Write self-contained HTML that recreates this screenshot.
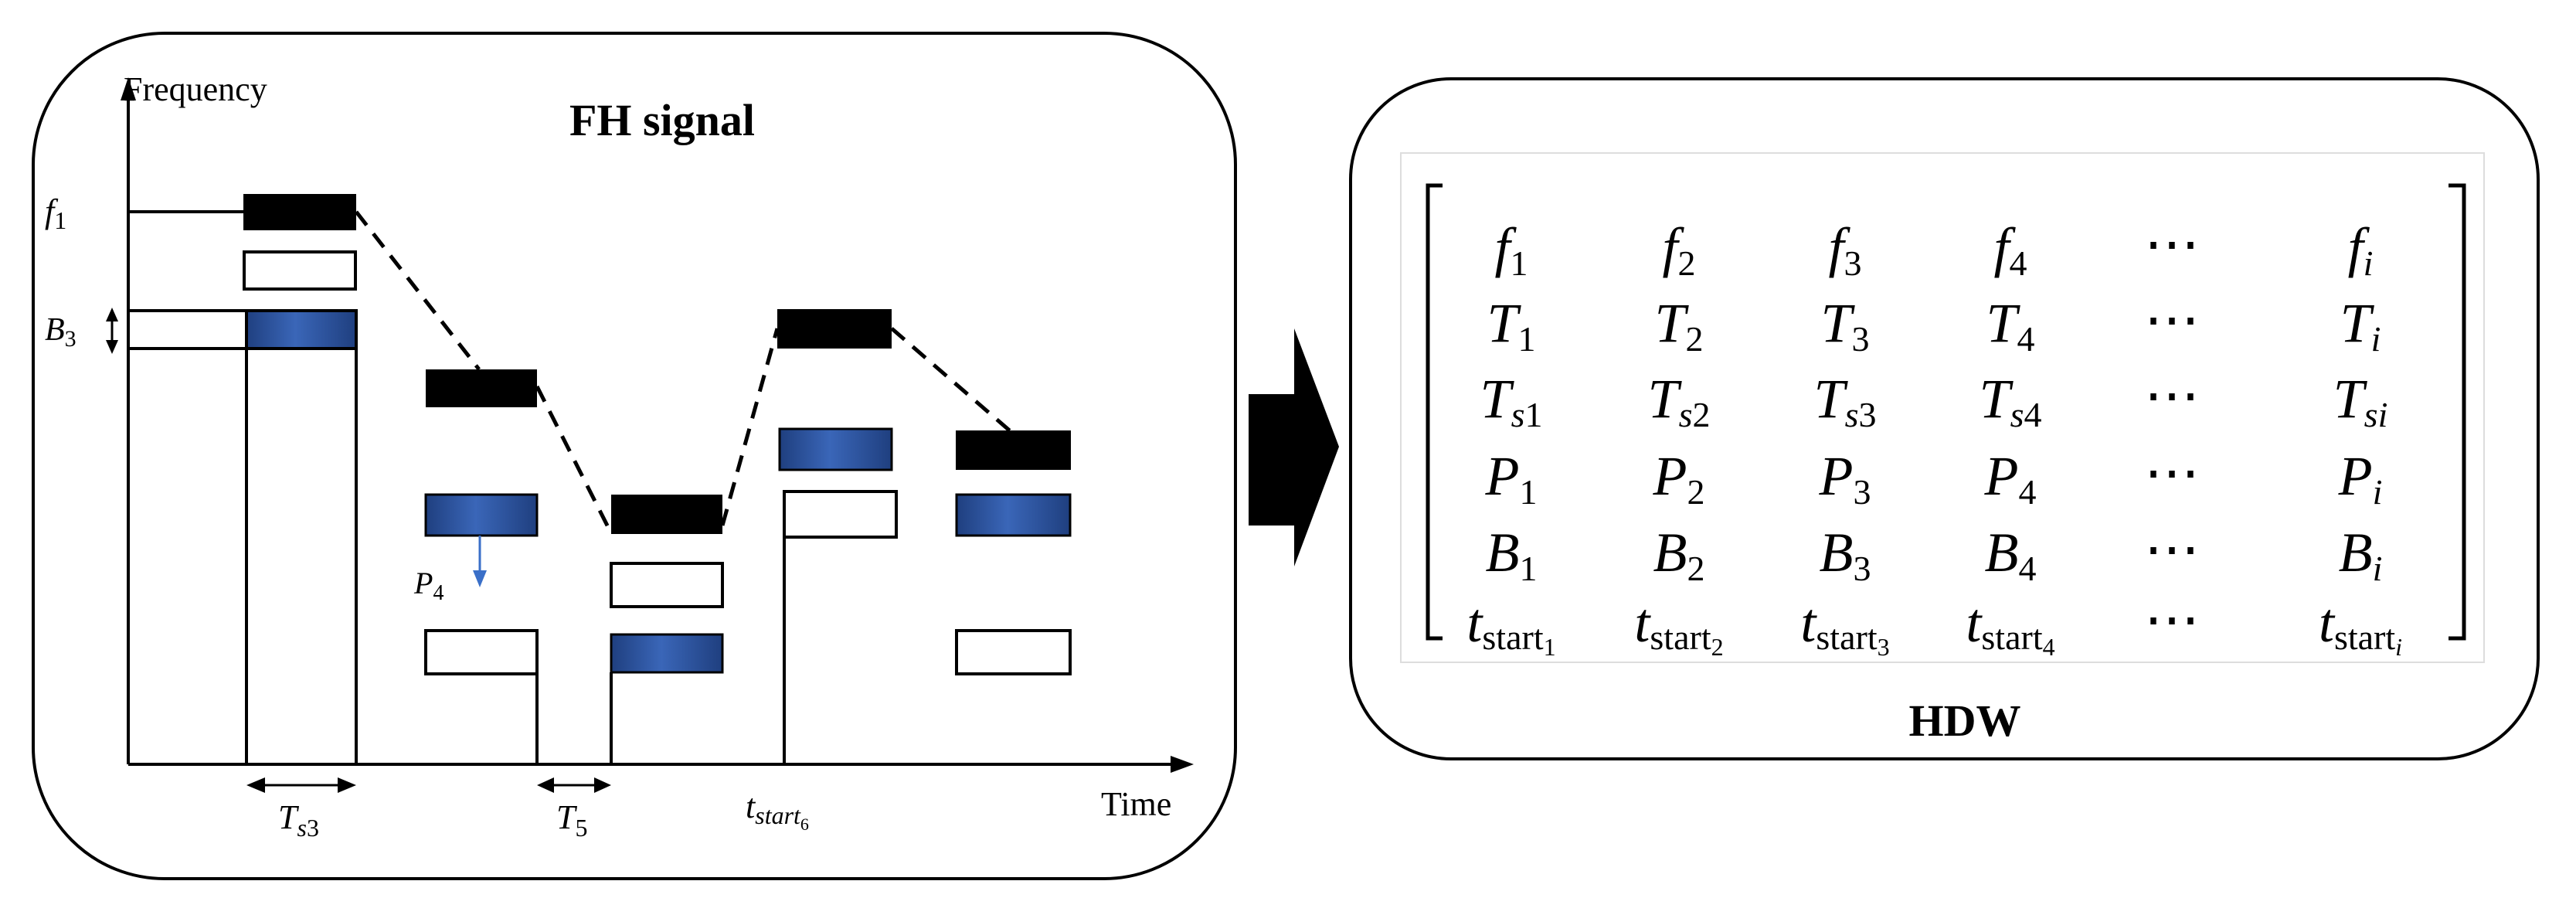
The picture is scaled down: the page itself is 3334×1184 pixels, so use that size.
<!DOCTYPE html>
<html><head><meta charset="utf-8"><style>
html,body{margin:0;padding:0;background:#fff}
svg{display:block}
.it{font-family:"Liberation Serif",serif;font-style:italic}
.m{font-family:"Liberation Serif",serif;font-style:italic;font-size:72px}
.s{font-size:46px}
</style></head><body>
<svg width="3334" height="1184" viewBox="0 0 3334 1184" xmlns="http://www.w3.org/2000/svg">
<defs>
<linearGradient id="bg" x1="0" x2="1" y1="0" y2="0">
<stop offset="0" stop-color="#1f3f7f"/><stop offset="0.45" stop-color="#3a66b8"/><stop offset="1" stop-color="#1f3f7f"/>
</linearGradient>
<marker id="ah" markerWidth="10" markerHeight="10" refX="9" refY="5" orient="auto" markerUnits="userSpaceOnUse" viewBox="0 0 10 10"><path d="M0,0L10,5L0,10z" fill="#000"/></marker>
</defs>
<!-- left box -->
<rect x="43" y="43" width="1556" height="1094" rx="170" ry="170" fill="none" stroke="#000" stroke-width="4"/>
<text x="160" y="130" font-family="Liberation Serif,serif" font-size="44">Frequency</text>
<text x="857" y="175" font-family="Liberation Serif,serif" font-size="58" font-weight="bold" text-anchor="middle">FH signal</text>
<!-- axes -->
<line x1="166" y1="989" x2="166" y2="125" stroke="#000" stroke-width="4"/>
<path d="M166,100 L156,130 L176,130z" fill="#000"/>
<line x1="166" y1="989" x2="1520" y2="989" stroke="#000" stroke-width="4"/>
<path d="M1545,989 L1515,978 L1515,1000z" fill="#000"/>
<!-- f1 -->
<text x="58" y="288" class="it" font-size="44">f<tspan font-style="normal" font-size="32" dy="8">1</tspan></text>
<line x1="166" y1="274" x2="315" y2="274" stroke="#000" stroke-width="4"/>
<!-- col1 -->
<rect x="315" y="251" width="146" height="47" fill="#000"/>
<rect x="316" y="326" width="144" height="48" fill="#fff" stroke="#000" stroke-width="4"/>
<rect x="318" y="404" width="143" height="47" fill="url(#bg)"/>
<line x1="166" y1="402" x2="463" y2="402" stroke="#000" stroke-width="4"/>
<line x1="166" y1="451" x2="463" y2="451" stroke="#000" stroke-width="4"/>
<line x1="319" y1="402" x2="319" y2="989" stroke="#000" stroke-width="4"/>
<line x1="461" y1="402" x2="461" y2="989" stroke="#000" stroke-width="4"/>
<line x1="145" y1="405" x2="145" y2="450" stroke="#000" stroke-width="3"/>
<path d="M145,398 L137,416 L153,416z M145,458 L137,440 L153,440z" fill="#000"/>
<text x="58" y="440" class="it" font-size="42">B<tspan font-style="normal" font-size="30" dy="8">3</tspan></text>
<!-- col2 -->
<rect x="551" y="478" width="144" height="49" fill="#000"/>
<rect x="551" y="640" width="144" height="53" fill="url(#bg)" stroke="#000" stroke-width="3"/>
<rect x="551" y="816" width="144" height="56" fill="#fff" stroke="#000" stroke-width="4"/>
<line x1="695" y1="872" x2="695" y2="989" stroke="#000" stroke-width="4"/>
<line x1="621" y1="693" x2="621" y2="740" stroke="#3a6fc8" stroke-width="3"/>
<path d="M612,738 L630,738 L621,760z" fill="#3a6fc8"/>
<text x="536" y="768" class="it" font-size="40">P<tspan font-style="normal" font-size="28" dy="8">4</tspan></text>
<!-- col3 -->
<rect x="791" y="640" width="144" height="51" fill="#000"/>
<rect x="791" y="729" width="144" height="56" fill="#fff" stroke="#000" stroke-width="4"/>
<rect x="791" y="821" width="144" height="49" fill="url(#bg)" stroke="#000" stroke-width="3"/>
<line x1="791" y1="870" x2="791" y2="989" stroke="#000" stroke-width="4"/>
<!-- col4 -->
<rect x="1006" y="400" width="148" height="51" fill="#000"/>
<rect x="1009" y="555" width="145" height="53" fill="url(#bg)" stroke="#000" stroke-width="3"/>
<rect x="1015" y="636" width="145" height="59" fill="#fff" stroke="#000" stroke-width="4"/>
<line x1="1015" y1="695" x2="1015" y2="989" stroke="#000" stroke-width="4"/>
<!-- col5 -->
<rect x="1237" y="557" width="149" height="51" fill="#000"/>
<rect x="1238" y="640" width="147" height="53" fill="url(#bg)" stroke="#000" stroke-width="3"/>
<rect x="1238" y="816" width="147" height="56" fill="#fff" stroke="#000" stroke-width="4"/>
<!-- dashed -->
<g stroke="#000" stroke-width="5" stroke-dasharray="22,14" fill="none">
<line x1="461" y1="274" x2="620" y2="478"/>
<line x1="695" y1="500" x2="791" y2="690"/>
<line x1="935" y1="680" x2="1006" y2="425"/>
<line x1="1154" y1="425" x2="1310" y2="560"/>
</g>
<!-- time arrows -->
<line x1="330" y1="1016" x2="450" y2="1016" stroke="#000" stroke-width="3"/>
<path d="M319,1016 L343,1006 L343,1026z M461,1016 L437,1006 L437,1026z" fill="#000"/>
<line x1="705" y1="1016" x2="781" y2="1016" stroke="#000" stroke-width="3"/>
<path d="M695,1016 L717,1006 L717,1026z M791,1016 L769,1006 L769,1026z" fill="#000"/>
<text x="360" y="1072" class="it" font-size="44">T<tspan font-size="32" dy="10">s</tspan><tspan font-style="normal" font-size="32">3</tspan></text>
<text x="720" y="1072" class="it" font-size="44">T<tspan font-style="normal" font-size="32" dy="10">5</tspan></text>
<text x="965" y="1058" class="it" font-size="44">t<tspan font-size="32" dy="8">start</tspan><tspan font-style="normal" font-size="22" dy="8">6</tspan></text>
<text x="1425" y="1055" font-family="Liberation Serif,serif" font-size="44">Time</text>
<!-- big arrow -->
<path d="M1616,510 L1675,510 L1675,425 L1733,578 L1675,733 L1675,680 L1616,680z" fill="#000"/>
<!-- right box -->
<rect x="1748" y="102" width="1537" height="880" rx="130" ry="130" fill="none" stroke="#000" stroke-width="4"/>
<rect x="1813" y="198" width="1402" height="659" fill="#fff" stroke="#ddd" stroke-width="2"/>
<path d="M1867,240 L1848,240 L1848,826 L1867,826" fill="none" stroke="#000" stroke-width="5"/>
<path d="M3169,240 L3189,240 L3189,826 L3169,826" fill="none" stroke="#000" stroke-width="5"/>
<g class="m" text-anchor="middle">
<text x="1956" y="344">f<tspan font-style="normal" class="s" dy="12">1</tspan></text>
<text x="2173" y="344">f<tspan font-style="normal" class="s" dy="12">2</tspan></text>
<text x="2388" y="344">f<tspan font-style="normal" class="s" dy="12">3</tspan></text>
<text x="2602" y="344">f<tspan font-style="normal" class="s" dy="12">4</tspan></text>
<text x="2811" y="340" font-style="normal">⋯</text>
<text x="3055" y="344">f<tspan class="s" dy="12">i</tspan></text>

<text x="1956" y="442">T<tspan font-style="normal" class="s" dy="12">1</tspan></text>
<text x="2173" y="442">T<tspan font-style="normal" class="s" dy="12">2</tspan></text>
<text x="2388" y="442">T<tspan font-style="normal" class="s" dy="12">3</tspan></text>
<text x="2602" y="442">T<tspan font-style="normal" class="s" dy="12">4</tspan></text>
<text x="2811" y="438" font-style="normal">⋯</text>
<text x="3055" y="442">T<tspan class="s" dy="12">i</tspan></text>

<text x="1956" y="540">T<tspan class="s" dy="12">s</tspan><tspan font-style="normal" class="s">1</tspan></text>
<text x="2173" y="540">T<tspan class="s" dy="12">s</tspan><tspan font-style="normal" class="s">2</tspan></text>
<text x="2388" y="540">T<tspan class="s" dy="12">s</tspan><tspan font-style="normal" class="s">3</tspan></text>
<text x="2602" y="540">T<tspan class="s" dy="12">s</tspan><tspan font-style="normal" class="s">4</tspan></text>
<text x="2811" y="536" font-style="normal">⋯</text>
<text x="3055" y="540">T<tspan class="s" dy="12">si</tspan></text>

<text x="1956" y="640">P<tspan font-style="normal" class="s" dy="12">1</tspan></text>
<text x="2173" y="640">P<tspan font-style="normal" class="s" dy="12">2</tspan></text>
<text x="2388" y="640">P<tspan font-style="normal" class="s" dy="12">3</tspan></text>
<text x="2602" y="640">P<tspan font-style="normal" class="s" dy="12">4</tspan></text>
<text x="2811" y="636" font-style="normal">⋯</text>
<text x="3055" y="640">P<tspan class="s" dy="12">i</tspan></text>

<text x="1956" y="739">B<tspan font-style="normal" class="s" dy="12">1</tspan></text>
<text x="2173" y="739">B<tspan font-style="normal" class="s" dy="12">2</tspan></text>
<text x="2388" y="739">B<tspan font-style="normal" class="s" dy="12">3</tspan></text>
<text x="2602" y="739">B<tspan font-style="normal" class="s" dy="12">4</tspan></text>
<text x="2811" y="735" font-style="normal">⋯</text>
<text x="3055" y="739">B<tspan class="s" dy="12">i</tspan></text>

<text x="1956" y="830">t<tspan font-style="normal" class="s" dy="10">start</tspan><tspan font-style="normal" font-size="32" dy="8">1</tspan></text>
<text x="2173" y="830">t<tspan font-style="normal" class="s" dy="10">start</tspan><tspan font-style="normal" font-size="32" dy="8">2</tspan></text>
<text x="2388" y="830">t<tspan font-style="normal" class="s" dy="10">start</tspan><tspan font-style="normal" font-size="32" dy="8">3</tspan></text>
<text x="2602" y="830">t<tspan font-style="normal" class="s" dy="10">start</tspan><tspan font-style="normal" font-size="32" dy="8">4</tspan></text>
<text x="2811" y="826" font-style="normal">⋯</text>
<text x="3055" y="830">t<tspan font-style="normal" class="s" dy="10">start</tspan><tspan font-size="32" dy="8">i</tspan></text>
</g>
<text x="2543" y="952" font-family="Liberation Serif,serif" font-size="58" font-weight="bold" text-anchor="middle">HDW</text>
</svg>
</body></html>
